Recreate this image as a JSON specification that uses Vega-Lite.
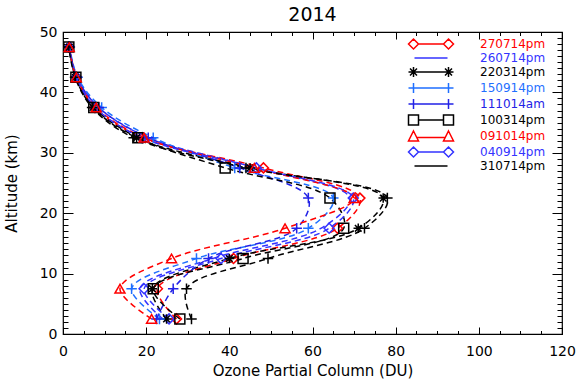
{
  "$schema": "https://vega.github.io/schema/vega-lite/v6.json",
  "width": 499,
  "height": 302,
  "autosize": {"type": "none"},
  "padding": {"left": 63, "top": 32, "right": 17, "bottom": 53},
  "background": "white",
  "config": {"view": {"stroke": "black", "strokeWidth": 1.2}, "font": "DejaVu Sans"},
  "title": {"text": "2014", "fontSize": 19, "fontWeight": "normal", "font": "DejaVu Sans", "offset": 0, "color": "black"},
  "datasets": {
    "pts": [
      {"series": "270714pm", "alt": 2.5, "du": 27.3}, {"series": "270714pm", "alt": 7.5, "du": 22.7}, {"series": "270714pm", "alt": 12.5, "du": 41.0}, {"series": "270714pm", "alt": 17.5, "du": 66.0}, {"series": "270714pm", "alt": 22.5, "du": 71.4}, {"series": "270714pm", "alt": 27.5, "du": 48.2}, {"series": "270714pm", "alt": 32.5, "du": 19.2}, {"series": "270714pm", "alt": 37.5, "du": 7.6}, {"series": "270714pm", "alt": 42.5, "du": 3.3}, {"series": "270714pm", "alt": 47.5, "du": 1.5},
      {"series": "260714pm", "alt": 2.5, "du": 24.0}, {"series": "260714pm", "alt": 7.5, "du": 18.5}, {"series": "260714pm", "alt": 12.5, "du": 36.0}, {"series": "260714pm", "alt": 17.5, "du": 62.0}, {"series": "260714pm", "alt": 22.5, "du": 69.0}, {"series": "260714pm", "alt": 27.5, "du": 46.5}, {"series": "260714pm", "alt": 32.5, "du": 20.5}, {"series": "260714pm", "alt": 37.5, "du": 8.6}, {"series": "260714pm", "alt": 42.5, "du": 3.4}, {"series": "260714pm", "alt": 47.5, "du": 1.5},
      {"series": "220314pm", "alt": 2.5, "du": 24.9}, {"series": "220314pm", "alt": 7.5, "du": 21.5}, {"series": "220314pm", "alt": 12.5, "du": 40.0}, {"series": "220314pm", "alt": 17.5, "du": 71.0}, {"series": "220314pm", "alt": 22.5, "du": 77.0}, {"series": "220314pm", "alt": 27.5, "du": 45.0}, {"series": "220314pm", "alt": 32.5, "du": 17.7}, {"series": "220314pm", "alt": 37.5, "du": 7.2}, {"series": "220314pm", "alt": 42.5, "du": 3.0}, {"series": "220314pm", "alt": 47.5, "du": 1.5},
      {"series": "150914pm", "alt": 2.5, "du": 23.2}, {"series": "150914pm", "alt": 7.5, "du": 16.5}, {"series": "150914pm", "alt": 12.5, "du": 32.1}, {"series": "150914pm", "alt": 17.5, "du": 59.0}, {"series": "150914pm", "alt": 22.5, "du": 65.0}, {"series": "150914pm", "alt": 27.5, "du": 41.3}, {"series": "150914pm", "alt": 32.5, "du": 21.7}, {"series": "150914pm", "alt": 37.5, "du": 9.3}, {"series": "150914pm", "alt": 42.5, "du": 3.5}, {"series": "150914pm", "alt": 47.5, "du": 1.6},
      {"series": "111014am", "alt": 2.5, "du": 22.5}, {"series": "111014am", "alt": 7.5, "du": 26.5}, {"series": "111014am", "alt": 12.5, "du": 35.0}, {"series": "111014am", "alt": 17.5, "du": 56.2}, {"series": "111014am", "alt": 22.5, "du": 59.0}, {"series": "111014am", "alt": 27.5, "du": 42.5}, {"series": "111014am", "alt": 32.5, "du": 20.5}, {"series": "111014am", "alt": 37.5, "du": 8.6}, {"series": "111014am", "alt": 42.5, "du": 3.3}, {"series": "111014am", "alt": 47.5, "du": 1.5},
      {"series": "100314pm", "alt": 2.5, "du": 28.1}, {"series": "100314pm", "alt": 7.5, "du": 21.7}, {"series": "100314pm", "alt": 12.5, "du": 43.3}, {"series": "100314pm", "alt": 17.5, "du": 67.5}, {"series": "100314pm", "alt": 22.5, "du": 64.2}, {"series": "100314pm", "alt": 27.5, "du": 39.0}, {"series": "100314pm", "alt": 32.5, "du": 18.0}, {"series": "100314pm", "alt": 37.5, "du": 7.4}, {"series": "100314pm", "alt": 42.5, "du": 3.1}, {"series": "100314pm", "alt": 47.5, "du": 1.4},
      {"series": "091014pm", "alt": 2.5, "du": 21.3}, {"series": "091014pm", "alt": 7.5, "du": 13.7}, {"series": "091014pm", "alt": 12.5, "du": 26.1}, {"series": "091014pm", "alt": 17.5, "du": 53.4}, {"series": "091014pm", "alt": 22.5, "du": 70.0}, {"series": "091014pm", "alt": 27.5, "du": 46.0}, {"series": "091014pm", "alt": 32.5, "du": 19.5}, {"series": "091014pm", "alt": 37.5, "du": 8.0}, {"series": "091014pm", "alt": 42.5, "du": 3.2}, {"series": "091014pm", "alt": 47.5, "du": 1.5},
      {"series": "040914pm", "alt": 2.5, "du": 25.5}, {"series": "040914pm", "alt": 7.5, "du": 19.5}, {"series": "040914pm", "alt": 12.5, "du": 38.0}, {"series": "040914pm", "alt": 17.5, "du": 64.0}, {"series": "040914pm", "alt": 22.5, "du": 69.8}, {"series": "040914pm", "alt": 27.5, "du": 46.5}, {"series": "040914pm", "alt": 32.5, "du": 19.0}, {"series": "040914pm", "alt": 37.5, "du": 7.8}, {"series": "040914pm", "alt": 42.5, "du": 3.2}, {"series": "040914pm", "alt": 47.5, "du": 1.5},
      {"series": "310714pm", "alt": 2.5, "du": 30.9}, {"series": "310714pm", "alt": 7.5, "du": 29.7}, {"series": "310714pm", "alt": 12.5, "du": 49.3}, {"series": "310714pm", "alt": 17.5, "du": 72.5}, {"series": "310714pm", "alt": 22.5, "du": 78.0}, {"series": "310714pm", "alt": 27.5, "du": 44.0}, {"series": "310714pm", "alt": 32.5, "du": 17.0}, {"series": "310714pm", "alt": 37.5, "du": 7.0}, {"series": "310714pm", "alt": 42.5, "du": 2.9}, {"series": "310714pm", "alt": 47.5, "du": 1.4}
    ]
  },
  "data": {"name": "pts"},
  "layer": [
    {
      "mark": {"type": "line", "strokeDash": [6, 4], "strokeWidth": 1.5, "interpolate": "catmull-rom"},
      "encoding": {
        "x": {"field": "du", "type": "quantitative", "scale": {"domain": [0, 120], "nice": false},
          "axis": {"orient": "bottom", "values": [0, 20, 40, 60, 80, 100, 120], "ticks": false, "domain": false, "grid": false, "labelFontSize": 14, "labelPadding": 10, "labelColor": "black", "labelFlush": false, "title": "Ozone Partial Column (DU)", "titleFontSize": 15, "titleFontWeight": "normal", "titleColor": "black", "titlePadding": 5}},
        "y": {"field": "alt", "type": "quantitative", "scale": {"domain": [0, 50], "nice": false},
          "axis": {"orient": "left", "values": [0, 10, 20, 30, 40, 50], "ticks": false, "domain": false, "grid": false, "labelFontSize": 14, "labelPadding": 6, "labelColor": "black", "labelFlush": false, "title": "Altitude (km)", "titleFontSize": 15, "titleFontWeight": "normal", "titleColor": "black", "titlePadding": 20}},
        "color": {"field": "series", "type": "nominal",
          "scale": {"domain": ["270714pm", "260714pm", "220314pm", "150914pm", "111014am", "100314pm", "091014pm", "040914pm", "310714pm"],
                    "range": ["#ff0000", "#3333ff", "#000000", "#1f6fff", "#2222e6", "#000000", "#ff0000", "#3333ff", "#000000"]},
          "legend": {"orient": "none", "legendX": 362, "legendY": 6, "title": null, "labelFontSize": 12, "labelOffset": 43, "symbolSize": 100, "symbolStrokeWidth": 1.5, "symbolOpacity": 1, "rowPadding": 0, "padding": 0,
            "encode": {"labels": {"update": {"fill": {"signal": "scale('color', datum.value)"}}}}}},
        "order": {"field": "alt", "type": "quantitative"}
      }
    },
    {
      "transform": [{"filter": "datum.series == '270714pm' || datum.series == '040914pm'"}],
      "mark": {"type": "point", "filled": false, "strokeWidth": 1.5, "size": 100, "shape": "M0,-1L1,0L0,1L-1,0Z", "opacity": 1},
      "encoding": {
        "x": {"field": "du", "type": "quantitative", "axis": {"orient": "bottom", "values": [0, 20, 40, 60, 80, 100, 120], "labels": false, "domain": false, "grid": false, "tickSize": -7, "tickColor": "black", "title": null}},
        "y": {"field": "alt", "type": "quantitative", "axis": {"orient": "left", "values": [0, 10, 20, 30, 40, 50], "labels": false, "domain": false, "grid": false, "tickSize": -10, "tickColor": "black", "title": null}},
        "color": {"field": "series", "type": "nominal"}
      }
    },
    {
      "transform": [{"filter": "datum.series == '220314pm'"}],
      "mark": {"type": "point", "filled": false, "strokeWidth": 1.5, "size": 90, "shape": "M-1,0L1,0M0,-1L0,1M-0.7,-0.7L0.7,0.7M-0.7,0.7L0.7,-0.7", "opacity": 1},
      "encoding": {
        "x": {"field": "du", "type": "quantitative", "axis": {"orient": "bottom", "values": [0,5,10,15,20,25,30,35,40,45,50,55,60,65,70,75,80,85,90,95,100,105,110,115,120], "labels": false, "domain": false, "grid": false, "tickSize": -3.5, "tickColor": "black", "title": null}},
        "y": {"field": "alt", "type": "quantitative", "axis": {"orient": "left", "values": [0,1,2,3,4,5,6,7,8,9,10,11,12,13,14,15,16,17,18,19,20,21,22,23,24,25,26,27,28,29,30,31,32,33,34,35,36,37,38,39,40,41,42,43,44,45,46,47,48,49,50], "labels": false, "domain": false, "grid": false, "tickSize": -5, "tickColor": "black", "title": null}},
        "color": {"field": "series", "type": "nominal"}
      }
    },
    {
      "transform": [{"filter": "datum.series == '150914pm' || datum.series == '111014am' || datum.series == '310714pm'"}],
      "mark": {"type": "point", "filled": false, "strokeWidth": 1.5, "size": 110, "shape": "M-1,0L1,0M0,-1L0,1", "opacity": 1},
      "encoding": {
        "x": {"field": "du", "type": "quantitative", "axis": {"orient": "top", "values": [0, 20, 40, 60, 80, 100, 120], "labels": false, "domain": false, "grid": false, "tickSize": -7, "tickColor": "black", "title": null}},
        "y": {"field": "alt", "type": "quantitative", "axis": {"orient": "right", "values": [0, 10, 20, 30, 40, 50], "labels": false, "domain": false, "grid": false, "tickSize": -10, "tickColor": "black", "title": null}},
        "color": {"field": "series", "type": "nominal"}
      }
    },
    {
      "transform": [{"filter": "datum.series == '100314pm'"}],
      "mark": {"type": "point", "filled": false, "strokeWidth": 1.5, "size": 100, "shape": "square", "opacity": 1},
      "encoding": {
        "x": {"field": "du", "type": "quantitative", "axis": {"orient": "top", "values": [0,5,10,15,20,25,30,35,40,45,50,55,60,65,70,75,80,85,90,95,100,105,110,115,120], "labels": false, "domain": false, "grid": false, "tickSize": -3.5, "tickColor": "black", "title": null}},
        "y": {"field": "alt", "type": "quantitative", "axis": {"orient": "right", "values": [0,1,2,3,4,5,6,7,8,9,10,11,12,13,14,15,16,17,18,19,20,21,22,23,24,25,26,27,28,29,30,31,32,33,34,35,36,37,38,39,40,41,42,43,44,45,46,47,48,49,50], "labels": false, "domain": false, "grid": false, "tickSize": -5, "tickColor": "black", "title": null}},
        "color": {"field": "series", "type": "nominal"}
      }
    },
    {
      "transform": [{"filter": "datum.series == '091014pm'"}],
      "mark": {"type": "point", "filled": false, "strokeWidth": 1.5, "size": 100, "shape": "triangle-up", "opacity": 1},
      "encoding": {
        "x": {"field": "du", "type": "quantitative", "axis": null},
        "y": {"field": "alt", "type": "quantitative", "axis": null},
        "color": {"field": "series", "type": "nominal"}
      }
    },
    {
      "mark": {"type": "point", "filled": false, "opacity": 0},
      "encoding": {
        "x": {"field": "du", "type": "quantitative", "axis": null},
        "y": {"field": "alt", "type": "quantitative", "axis": null},
        "color": {"field": "series", "type": "nominal"},
        "shape": {"field": "series", "type": "nominal",
          "scale": {"domain": ["270714pm", "260714pm", "220314pm", "150914pm", "111014am", "100314pm", "091014pm", "040914pm", "310714pm"],
                    "range": ["M-2.5,0L2.5,0M-3.5,-1L-2.5,0L-3.5,1L-4.5,0ZM3.5,-1L4.5,0L3.5,1L2.5,0Z",
                              "M-3.3,0L3.3,0",
                              "M-4.5,0L4.5,0M-3.5,-1L-3.5,1M-4.2,-0.7L-2.8,0.7M-4.2,0.7L-2.8,-0.7M3.5,-1L3.5,1M2.8,-0.7L4.2,0.7M2.8,0.7L4.2,-0.7",
                              "M-4.5,0L4.5,0M-3.5,-1L-3.5,1M3.5,-1L3.5,1",
                              "M-4.5,0L4.5,0M-3.5,-1L-3.5,1M3.5,-1L3.5,1",
                              "M-2.5,0L2.5,0M-4.5,-1L-2.5,-1L-2.5,1L-4.5,1ZM2.5,-1L4.5,-1L4.5,1L2.5,1Z",
                              "M-2.9,0.3L2.9,0.3M-3.5,-1L-2.5,1L-4.5,1ZM3.5,-1L4.5,1L2.5,1Z",
                              "M-2.5,0L2.5,0M-3.5,-1L-2.5,0L-3.5,1L-4.5,0ZM3.5,-1L4.5,0L3.5,1L2.5,0Z",
                              "M-3.3,0L3.3,0"]},
          "legend": {"orient": "none", "legendX": 362, "legendY": 6, "title": null, "labelFontSize": 12, "labelOffset": 43, "symbolSize": 100, "symbolStrokeWidth": 1.5, "symbolOpacity": 1, "rowPadding": 0, "padding": 0,
            "encode": {"labels": {"update": {"fill": {"signal": "scale('color', datum.value)"}}}}}}
      }
    }
  ],
  "resolve": {"axis": {"x": "independent", "y": "independent"}}
}
